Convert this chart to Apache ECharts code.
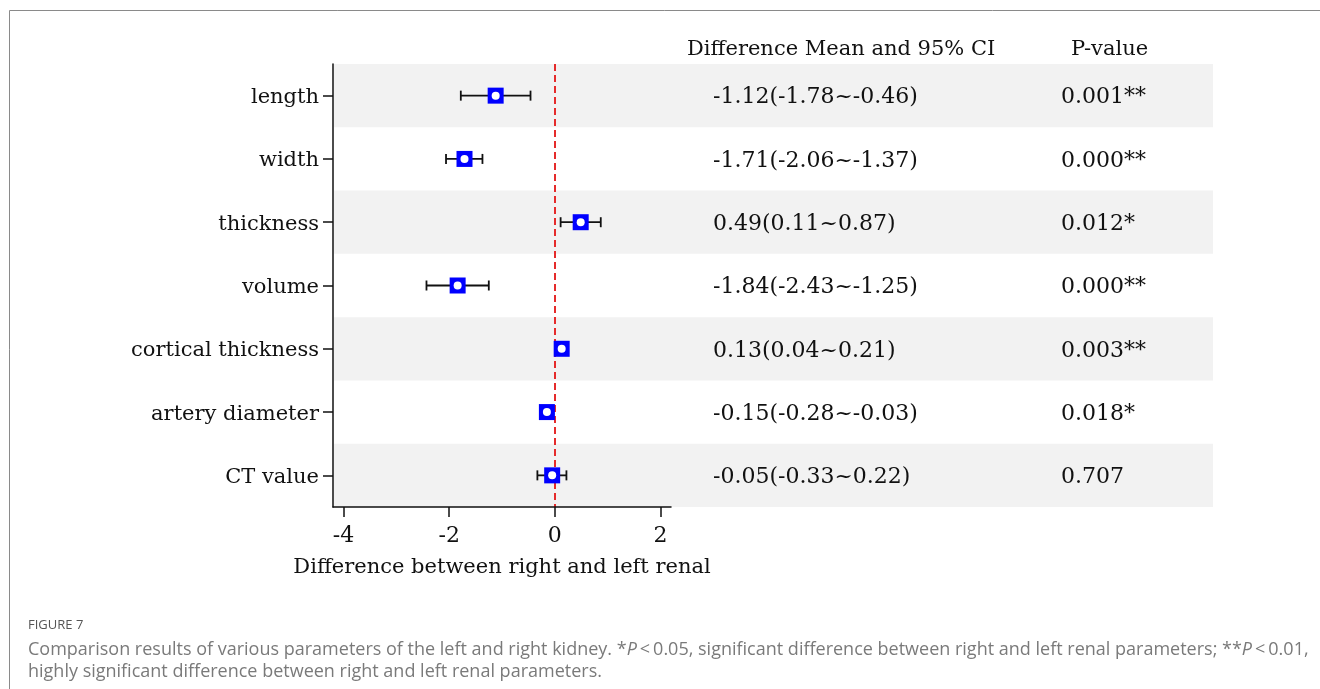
<!DOCTYPE html>
<html><head><meta charset="utf-8">
<script src="https://cdn.jsdelivr.net/npm/echarts@6/dist/echarts.min.js"></script>
<style>html,body{margin:0;padding:0;background:#fff}#c{width:1320px;height:689px}#e{position:absolute;left:700px;top:100px;font:12px monospace;white-space:pre;color:red}</style>
</head><body><div id="c"></div><div id="e"></div>
<script>
const categories = ['length','width','thickness','volume','cortical thickness','artery diameter','CT value'];
const meanDiff = [-1.12, -1.71, 0.49, -1.84, 0.13, -0.15, -0.05];
const ciLower = [-1.78, -2.06, 0.11, -2.43, 0.04, -0.28, -0.33];
const ciUpper = [-0.46, -1.37, 0.87, -1.25, 0.21, -0.03, 0.22];
const ciText = ['-1.12(-1.78~-0.46)','-1.71(-2.06~-1.37)','0.49(0.11~0.87)','-1.84(-2.43~-1.25)','0.13(0.04~0.21)','-0.15(-0.28~-0.03)','-0.05(-0.33~0.22)'];
const pText = ['0.001**','0.000**','0.012*','0.000**','0.003**','0.018*','0.707'];
const xTicks = [-4, -2, 0, 2];
const headers = ['Difference Mean and 95% CI', 'P-value'];
const xTitle = 'Difference between right and left renal';
const figLabel = 'FIGURE 7';
const captionLines = [
  'Comparison results of various parameters of the left and right kidney. *{i|P}\u2009<\u20090.05, significant difference between right and left renal parameters; **{i|P}\u2009<\u20090.01,',
  'highly significant difference between right and left renal parameters.'
];

const SERIF = 'DejaVu Serif';
const FS = 21;
const FS_T = 22;
const TXT = '#111';
const CAP_FONT = '18px "Open Sans"';
const capRich = {i: {fontFamily: 'Open Sans', fontSize: 18, fontStyle: 'italic', fill: '#7a7a7a', color: '#7a7a7a'}};

const chart = echarts.init(document.getElementById('c'), null, {renderer: 'canvas'});

const option = {
  animation: false,
  backgroundColor: '#fff',
  grid: [
    {left: 333, top: 64, width: 338, height: 443, containLabel: false},
    {left: 333, top: 64, width: 880, height: 443, containLabel: false}
  ],
  xAxis: [
    {
      type: 'value', gridIndex: 0, min: -4.2, max: 2.2, z: 5,
      name: xTitle, nameLocation: 'middle', nameGap: 50,
      nameTextStyle: {fontFamily: SERIF, fontSize: FS, color: TXT},
      axisLine: {show: true, onZero: false, lineStyle: {color: '#111', width: 1.5}},
      axisTick: {show: true, length: 10, customValues: xTicks, lineStyle: {color: '#111', width: 1.5}},
      axisLabel: {customValues: xTicks, margin: 18, fontFamily: SERIF, fontSize: FS_T, color: TXT},
      splitLine: {show: false}
    },
    {type: 'value', gridIndex: 1, min: 0, max: 1, show: false}
  ],
  yAxis: [
    {
      type: 'category', gridIndex: 0, data: categories, inverse: true, z: 5,
      axisLine: {show: true, onZero: false, lineStyle: {color: '#111', width: 1.5}},
      axisTick: {show: true, alignWithLabel: true, length: 10, lineStyle: {color: '#111', width: 1.5}},
      axisLabel: {
        margin: 14, color: TXT,
        formatter: function (v) { return '{a|' + v + '}'; },
        rich: {a: {fontFamily: SERIF, fontSize: FS, color: TXT, padding: [4, 0, 0, 0]}}
      },
      splitLine: {show: false}
    },
    {type: 'category', gridIndex: 1, data: categories, inverse: true, show: false}
  ],
  series: [
    {
      type: 'custom', xAxisIndex: 1, yAxisIndex: 1, z: -1, silent: true,
      data: categories.map((c, i) => [0, i]),
      renderItem: function (params, api) {
        const i = api.value(1);
        const y = api.coord([0, i])[1];
        const h = api.size([0, 1])[1];
        const cs = params.coordSys;
        const children = [];
        if (i % 2 === 0) {
          children.push({type: 'rect', shape: {x: cs.x + 1, y: y - h / 2, width: cs.width - 1, height: h}, style: {fill: '#f2f2f2'}});
        }
        children.push({type: 'text', x: cs.x + 380, y: y + 2, style: {text: ciText[i], font: FS_T + 'px "' + SERIF + '"', fill: TXT, align: 'left', verticalAlign: 'middle'}});
        children.push({type: 'text', x: cs.x + 728, y: y + 2, style: {text: pText[i], font: FS_T + 'px "' + SERIF + '"', fill: TXT, align: 'left', verticalAlign: 'middle'}});
        return {type: 'group', children: children};
      }
    },
    {
      type: 'custom', xAxisIndex: 0, yAxisIndex: 0, z: 3, silent: true,
      data: categories.map((c, i) => [ciLower[i], ciUpper[i], i]),
      encode: {x: [0, 1], y: 2},
      renderItem: function (params, api) {
        const lo = api.coord([api.value(0), api.value(2)]);
        const hi = api.coord([api.value(1), api.value(2)]);
        const cap = 5;
        const st = {stroke: '#111', lineWidth: 1.8};
        return {type: 'group', children: [
          {type: 'line', shape: {x1: lo[0], y1: lo[1], x2: hi[0], y2: hi[1]}, style: st},
          {type: 'line', shape: {x1: lo[0], y1: lo[1] - cap, x2: lo[0], y2: lo[1] + cap}, style: st},
          {type: 'line', shape: {x1: hi[0], y1: hi[1] - cap, x2: hi[0], y2: hi[1] + cap}, style: st}
        ]};
      }
    },
    {
      type: 'scatter', xAxisIndex: 0, yAxisIndex: 0, z: 4, silent: true,
      symbol: 'rect', symbolSize: 16,
      itemStyle: {color: '#0000ff', opacity: 1},
      data: categories.map((c, i) => [meanDiff[i], i]),
      markLine: {
        silent: true, symbol: 'none', label: {show: false}, z: 2,
        lineStyle: {color: '#e52b2b', type: [7, 4], width: 2},
        data: [{xAxis: 0}]
      }
    },
    {
      type: 'scatter', xAxisIndex: 0, yAxisIndex: 0, z: 5, silent: true,
      symbol: 'circle', symbolSize: 8,
      itemStyle: {color: '#ffffff', opacity: 1},
      data: categories.map((c, i) => [meanDiff[i], i])
    }
  ],
  graphic: [
    {type: 'line', shape: {x1: 9.5, y1: 10.5, x2: 1320, y2: 10.5}, style: {stroke: '#8a8a8a', lineWidth: 1}, silent: true},
    {type: 'line', shape: {x1: 9.5, y1: 10.5, x2: 9.5, y2: 689}, style: {stroke: '#8a8a8a', lineWidth: 1}, silent: true},
    {type: 'text', left: 687, top: 39, style: {text: headers[0], font: FS + 'px "' + SERIF + '"', fill: TXT}, silent: true},
    {type: 'text', left: 1071, top: 39, style: {text: headers[1], font: FS + 'px "' + SERIF + '"', fill: TXT}, silent: true},
    {type: 'text', left: 28, top: 619, style: {text: figLabel, font: '13px "Open Sans"', fill: '#555'}, silent: true},
    {type: 'text', left: 28, top: 641, style: {text: captionLines[0], font: CAP_FONT, fill: '#7a7a7a', rich: capRich}, silent: true},
    {type: 'text', left: 28, top: 663, style: {text: captionLines[1], font: CAP_FONT, fill: '#7a7a7a'}, silent: true}
  ]
};
try {
  chart.setOption(option);
} catch (e) {
  document.getElementById('e').textContent = String(e && e.stack || e);
}
</script>
</body></html>
